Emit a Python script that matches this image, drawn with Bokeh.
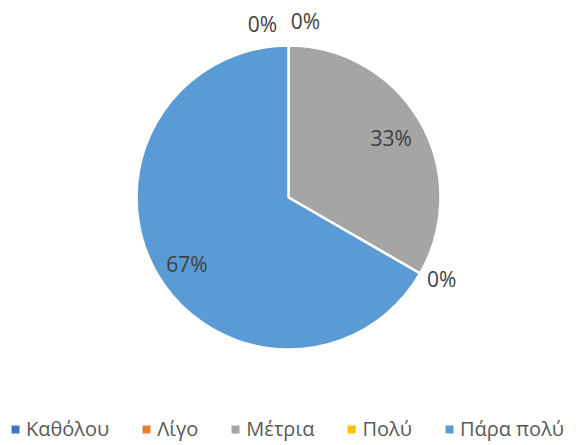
import numpy as np
from bokeh.plotting import figure
from bokeh.models import ColumnDataSource, Range1d
from bokeh.embed import file_html
from bokeh.resources import INLINE
from bokeh.core.properties import value

categories = ["Καθόλου", "Λίγο", "Μέτρια", "Πολύ", "Πάρα πολύ"]
shares = [0.0, 0.0, 33.33, 0.0, 66.67]
colors = ["#4472C4", "#ED7D31", "#A5A5A5", "#FFC000", "#5B9BD5"]

W, H = 575, 441
cx, cy, R = 288, H - 197, 152

vals = np.array(shares)
frac = vals / vals.sum()
cum_end = np.cumsum(frac)
cum_start = cum_end - frac
start = np.pi / 2 - cum_start * 2 * np.pi
end = np.pi / 2 - cum_end * 2 * np.pi
radius = [R if f > 0 else 0 for f in frac]

src = ColumnDataSource(dict(cat=categories, start=start, end=end, color=colors,
                            r=radius, x=[cx] * 5, y=[cy] * 5,
                            nan=[np.nan] * 5))

p = figure(width=W, height=H, x_range=Range1d(0, W), y_range=Range1d(0, H),
           output_backend="svg", toolbar_location=None, min_border=0)
p.axis.visible = False
p.grid.visible = False
p.outline_line_color = None

p.wedge(x="x", y="y", radius="r", start_angle="start", end_angle="end",
        direction="clock", fill_color="color", line_color="white", line_width=2.5,
        source=src)

# legend swatches (invisible quads, only their legend glyphs show)
p.quad(left="nan", right="nan", top="nan", bottom="nan", fill_color="color",
       line_color=None, legend_field="cat", source=src)

# labels
mid = (cum_start + cum_end) / 2
ang = np.pi / 2 - mid * 2 * np.pi
lr = np.array([0.78 * R if f > 0 else 1.14 * R for f in frac])
nudge_x = np.array([-26, 17, 0, 3, 1])
nudge_y = np.array([0, 3, 0, 5, -7])
lx = cx + lr * np.cos(ang) + nudge_x
ly = cy + lr * np.sin(ang) + nudge_y
labels = [f"{round(v)}%" for v in vals]
p.text(x=lx, y=ly, text=labels, text_align="center", text_baseline="middle",
       text_font=value("Open Sans"), text_font_size="21px", text_color="#404040")

lg = p.legend[0]
lg.orientation = "horizontal"
lg.location = (10, -1)
lg.label_text_font = "Open Sans"
lg.label_text_font_size = "20px"
lg.label_text_color = "#595959"
lg.glyph_width = 10
lg.glyph_height = 10
lg.label_standoff = 6
lg.spacing = 32
lg.padding = 0
lg.margin = 0
lg.label_height = 22
lg.border_line_alpha = 0
lg.background_fill_alpha = 0

open("out.html", "w").write(file_html(p, INLINE))
